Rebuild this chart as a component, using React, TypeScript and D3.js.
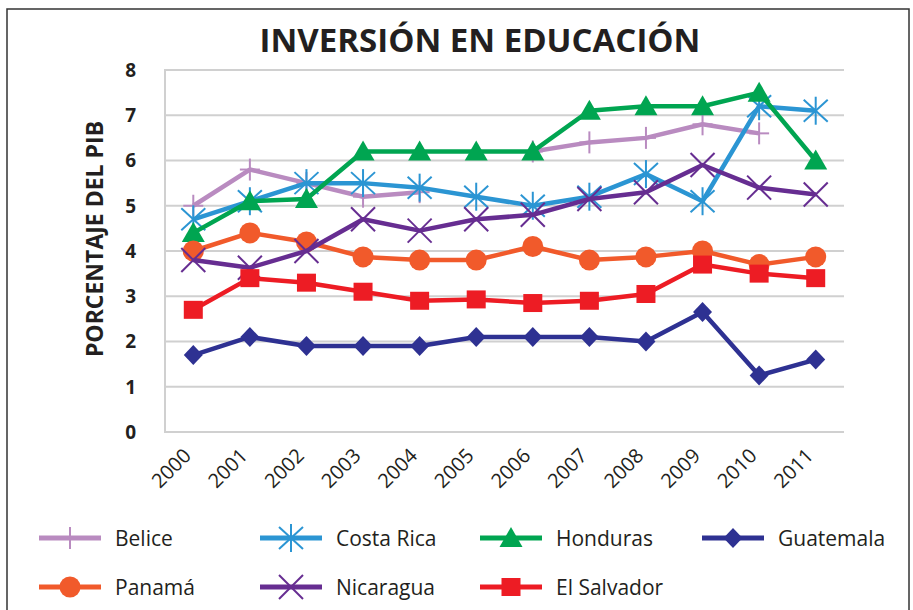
import React from 'react'
import * as d3 from 'd3'

// data (% of GDP)
const years = ['2000', '2001', '2002', '2003', '2004', '2005', '2006', '2007', '2008', '2009', '2010', '2011']
const belice = [5.0, 5.8, 5.5, 5.2, 5.3, null, 6.2, 6.4, 6.5, 6.8, 6.6, null]
const costaRica = [4.7, 5.1, 5.5, 5.5, 5.4, 5.2, 5.0, 5.2, 5.7, 5.1, 7.2, 7.1]
const honduras = [4.4, 5.1, 5.15, 6.2, 6.2, 6.2, 6.2, 7.1, 7.2, 7.2, 7.5, 6.0]
const guatemala = [1.7, 2.1, 1.9, 1.9, 1.9, 2.1, 2.1, 2.1, 2.0, 2.65, 1.25, 1.6]
const panama = [4.0, 4.4, 4.2, 3.87, 3.8, 3.8, 4.1, 3.8, 3.87, 4.0, 3.7, 3.87]
const nicaragua = [3.8, 3.63, 4.0, 4.7, 4.45, 4.7, 4.8, 5.15, 5.3, 5.9, 5.4, 5.25]
const elSalvador = [2.7, 3.4, 3.3, 3.1, 2.9, 2.93, 2.85, 2.9, 3.05, 3.7, 3.5, 3.4]
const yTicks = [0, 1, 2, 3, 4, 5, 6, 7, 8]

type Shape = 'plus' | 'star' | 'triangle' | 'diamond' | 'circle' | 'cross' | 'square'

const series: { name: string; values: (number | null)[]; color: string; shape: Shape }[] = [
  { name: 'Belice', values: belice, color: '#b98bc0', shape: 'plus' },
  { name: 'Costa Rica', values: costaRica, color: '#2b95d3', shape: 'star' },
  { name: 'Honduras', values: honduras, color: '#00a551', shape: 'triangle' },
  { name: 'Guatemala', values: guatemala, color: '#2e3192', shape: 'diamond' },
  { name: 'Panamá', values: panama, color: '#f15a2b', shape: 'circle' },
  { name: 'Nicaragua', values: nicaragua, color: '#662d91', shape: 'cross' },
  { name: 'El Salvador', values: elSalvador, color: '#ed1c24', shape: 'square' },
]

const W = 913
const H = 610
const FONT = '"Open Sans", sans-serif'
const TEXT = '#231f20'
const GRID = '#d0d0d0'

const Marker = ({ shape, x, y, color }: { shape: Shape; x: number; y: number; color: string }) => {
  switch (shape) {
    case 'plus':
      return (
        <g stroke={color} strokeWidth={2}>
          <line x1={x - 10} y1={y} x2={x + 10} y2={y} />
          <line x1={x} y1={y - 11} x2={x} y2={y + 11} />
        </g>
      )
    case 'star':
      return (
        <g stroke={color} strokeWidth={2}>
          <line x1={x} y1={y - 14} x2={x} y2={y + 14} />
          <line x1={x - 12} y1={y - 11} x2={x + 12} y2={y + 11} />
          <line x1={x - 12} y1={y + 11} x2={x + 12} y2={y - 11} />
        </g>
      )
    case 'cross':
      return (
        <g stroke={color} strokeWidth={2}>
          <line x1={x - 12} y1={y - 12} x2={x + 12} y2={y + 12} />
          <line x1={x - 12} y1={y + 12} x2={x + 12} y2={y - 12} />
        </g>
      )
    case 'triangle':
      return <polygon points={`${x},${y - 11} ${x + 11.5},${y + 9} ${x - 11.5},${y + 9}`} fill={color} />
    case 'diamond':
      return <polygon points={`${x},${y - 10} ${x + 9.5},${y} ${x},${y + 10} ${x - 9.5},${y}`} fill={color} />
    case 'circle':
      return <circle cx={x} cy={y} r={10.5} fill={color} />
    case 'square':
      return <rect x={x - 9.5} y={y - 9} width={19} height={18} fill={color} />
  }
}

const App = () => {
  const x = d3.scaleBand().domain(years).range([165, 844])
  const y = d3.scaleLinear().domain([0, 8]).range([432, 70])
  const cx = (yr: string) => (x(yr) ?? 0) + x.bandwidth() / 2

  const line = d3
    .line<number | null>()
    .defined((d) => d != null)
    .x((_, i) => cx(years[i]))
    .y((d) => y(d as number))

  // legend grid: 4 columns, 2 rows
  const legendCols = [39, 260, 480, 702]
  const legendRows = [538, 587]

  return (
    <div style={{ position: 'fixed', left: 0, top: 0 }}>
      <svg width={W} height={H} style={{ display: 'block', background: '#fff' }}>
        <rect x={7} y={9} width={902} height={640} fill="none" stroke="#333" strokeWidth={1.5} />

        <text x={480} y={52} textAnchor="middle" fontFamily={FONT} fontWeight={700} fontSize={33} fill={TEXT}>
          INVERSIÓN EN EDUCACIÓN
        </text>

        {/* grid + y axis */}
        {yTicks.map((t) => (
          <g key={t}>
            <line x1={165} x2={844} y1={y(t)} y2={y(t)} stroke={GRID} strokeWidth={2} />
            <text
              x={136}
              y={y(t)}
              dy="0.36em"
              textAnchor="end"
              fontFamily={FONT}
              fontWeight={700}
              fontSize={19}
              fill={TEXT}
            >
              {t}
            </text>
          </g>
        ))}
        <line x1={165} x2={165} y1={69} y2={433} stroke={GRID} strokeWidth={2} />

        <text
          transform="translate(103,239) rotate(-90)"
          textAnchor="middle"
          fontFamily={FONT}
          fontWeight={700}
          fontSize={23}
          fill={TEXT}
        >
          PORCENTAJE DEL PIB
        </text>

        {/* x labels */}
        {years.map((yr) => (
          <text
            key={yr}
            transform={`translate(${cx(yr) - 1},${457}) rotate(-45)`}
            textAnchor="end"
            fontFamily={FONT}
            fontSize={20}
            fill={TEXT}
          >
            {yr}
          </text>
        ))}

        {/* series */}
        {series.map((s) => (
          <g key={s.name}>
            <path d={line(s.values) ?? ''} fill="none" stroke={s.color} strokeWidth={4.5} strokeLinejoin="round" />
            {s.values.map((v, i) =>
              v == null ? null : <Marker key={i} shape={s.shape} x={cx(years[i])} y={y(v)} color={s.color} />
            )}
          </g>
        ))}

        {/* legend */}
        {series.map((s, i) => {
          const lx = legendCols[i % 4]
          const ly = legendRows[Math.floor(i / 4)]
          return (
            <g key={s.name}>
              <line x1={lx} x2={lx + 62} y1={ly} y2={ly} stroke={s.color} strokeWidth={5} />
              <Marker shape={s.shape} x={lx + 31} y={ly} color={s.color} />
              <text x={lx + 76} y={ly} dy="0.36em" fontFamily={FONT} fontSize={21} fill={TEXT}>
                {s.name}
              </text>
            </g>
          )
        })}
      </svg>
    </div>
  )
}

export default App
